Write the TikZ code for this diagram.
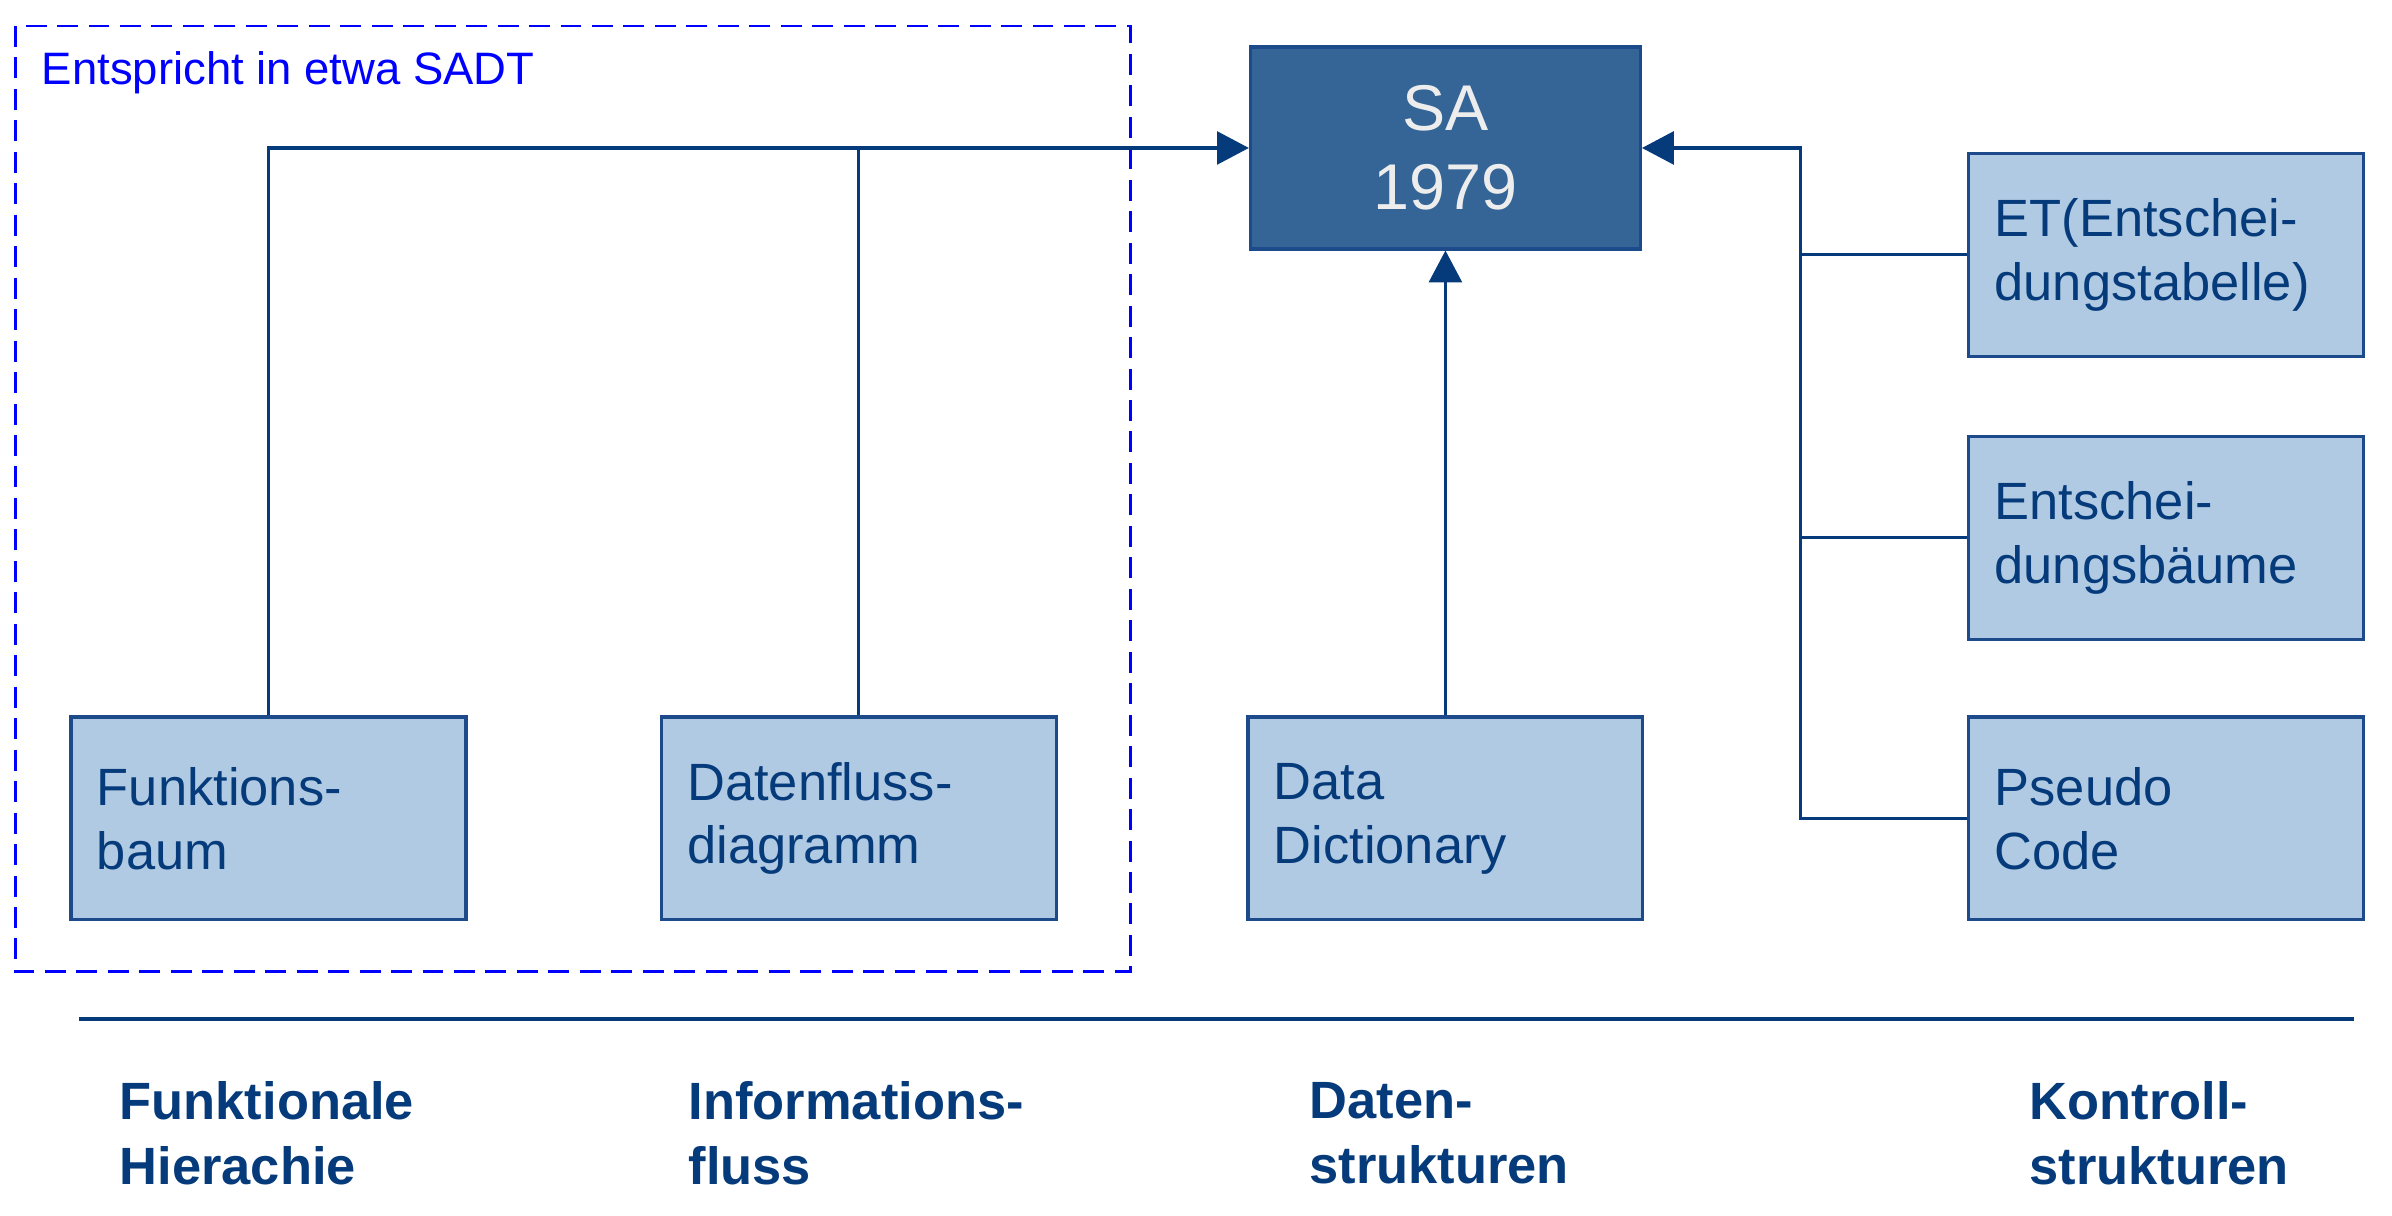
\documentclass[tikz,border=0pt]{standalone}
\usepackage{fontspec}
\setmainfont{Liberation Sans}
\usepackage{tikz}
\usetikzlibrary{arrows.meta}

\definecolor{darkblue}{HTML}{063B7B}
\definecolor{boxline}{HTML}{1C4A8A}
\definecolor{boxfill}{HTML}{B1CAE3}
\definecolor{safill}{HTML}{346596}

\tikzset{
  lightbox/.style={draw=boxline, line width=0.9pt, fill=boxfill, text=darkblue,
    minimum width=3.92cm, minimum height=2.04cm, inner sep=0.26cm,
    text width=3.45cm, align=left,
    font=\fontsize{15}{18.3}\selectfont},
  sabox/.style={draw=boxline, line width=0.9pt, fill=safill, text=black!7,
    minimum width=3.92cm, minimum height=2.03cm, align=center,
    font=\fontsize{18.5}{22.6}\selectfont},
  link/.style={draw=darkblue, line width=0.9pt},
  arrowlink/.style={link, -{Triangle[length=0.32cm, width=0.33cm]}},
  category/.style={anchor=west, inner sep=0pt, align=left, text=darkblue,
    font=\fontsize{15}{18.6}\bfseries\selectfont}
}

\begin{document}
\begin{tikzpicture}[x=0.01533cm, y=-0.01533cm]
\useasboundingbox (0,0) rectangle (1568,797);

% SADT region
\draw[blue, line width=0.8pt, dash pattern=on 6pt off 3pt] (10,17) rectangle (741,637);
\node[anchor=west, inner sep=0pt, text=blue, font=\fontsize{13}{15}\selectfont] (sadt) at (27,48) {Entspricht in etwa SADT};

% boxes
\node[sabox] (sa) at (947.5,97) {SA\\1979};
\node[lightbox] (fbaum) at (176,536.5) {Funktions-\\baum};
\node[lightbox] (dfd) at (563,536.5) {Datenfluss-\\diagramm};
\node[lightbox] (dd) at (947.5,536.5) {Data\\Dictionary};
\node[lightbox] (et) at (1420,167) {ET(Entschei-\\dungstabelle)};
\node[lightbox] (ebaum) at (1420,352.5) {Entschei-\\dungsbäume};
\node[lightbox] (pcode) at (1420,536.5) {Pseudo\\Code};

% connectors
\draw[arrowlink] (fbaum.north) |- (sa.west);
\draw[link] (dfd.north) -- (dfd.north |- sa.west);
\draw[arrowlink] (dd.north) -- (sa.south);

\coordinate (bus) at (1180,97);
\draw[arrowlink] (pcode.west) -| (bus) -- (sa.east);
\draw[link] (et.west) -- (et.west -| bus);
\draw[link] (ebaum.west) -- (ebaum.west -| bus);

% bottom row
\coordinate (rulea) at (52,668);
\coordinate (ruleb) at (1543,668);
\draw[darkblue, line width=1.3pt] (rulea) -- (ruleb);

\node[category] (funk) at (78,743) {Funktionale\\Hierachie};
\node[category] (info) at (451,743) {Informations-\\fluss};
\node[category] (daten) at (858,743) {Daten-\\strukturen};
\node[category] (kontr) at (1330,743) {Kontroll-\\strukturen};

\end{tikzpicture}
\end{document}
